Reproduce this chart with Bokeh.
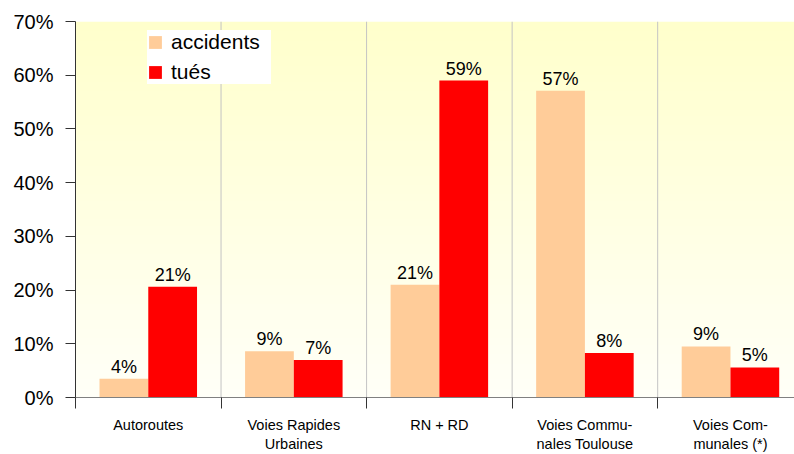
import numpy as np
from bokeh.plotting import figure
from bokeh.models import ColumnDataSource, Range1d, FixedTicker, LinearAxis, Legend, LegendItem
from bokeh.transform import dodge
from bokeh.core.properties import value
from bokeh.embed import file_html
from bokeh.resources import INLINE

# ---- data ----
categories = ["Autoroutes", "Voies Rapides Urbaines", "RN + RD",
              "Voies Communales Toulouse", "Voies Communales (*)"]
label_line1 = ["Autoroutes", "Voies Rapides", "RN + RD", "Voies Commu-", "Voies Com-"]
label_line2 = ["", "Urbaines", "", "nales Toulouse", "munales (*)"]
accidents = [3.5, 8.6, 21.0, 57.1, 9.5]
tues = [20.6, 7.0, 59.0, 8.3, 5.6]
accidents_labels = ["4%", "9%", "21%", "57%", "9%"]
tues_labels = ["21%", "7%", "59%", "8%", "5%"]
y_ticks = [0, 10, 20, 30, 40, 50, 60, 70]
series_names = ["accidents", "tués"]

FONT = "Liberation Sans"
ACC_COLOR = "#FFCC99"
TUES_COLOR = "#FF0000"

n = len(categories)
centers = [i + 0.5 for i in range(n)]
source = ColumnDataSource(dict(x=centers, acc=accidents, tues=tues,
                               acc_lbl=accidents_labels, tues_lbl=tues_labels))

p = figure(width=794, height=454, x_range=Range1d(0, 4.94), y_range=Range1d(0, 70),
           output_backend="svg", toolbar_location=None, x_axis_location=None,
           min_border_left=75, min_border_right=0, min_border_top=21, min_border_bottom=57)
p.outline_line_color = None
p.xgrid.visible = False
p.ygrid.visible = False
p.background_fill_color = "white"
p.border_fill_color = "white"

# gradient background (light yellow at top to near white at bottom)
rows = 120
img = np.empty((rows, 1), dtype=np.uint32)
view = img.view(dtype=np.uint8).reshape((rows, 1, 4))
t = np.linspace(0, 1, rows)
view[:, 0, 0] = 255
view[:, 0, 1] = 255
view[:, 0, 2] = (248 + (204 - 248) * t).astype(np.uint8)
view[:, 0, 3] = 255
p.image_rgba(image=[img], x=0, y=0, dw=n, dh=70)

# category separators
seps = list(range(1, n))
p.segment(x0=seps, y0=[0] * len(seps), x1=seps, y1=[70] * len(seps),
          line_color="#C4C4C4", line_width=1)

bw = 0.335
r_acc = p.vbar(x=dodge("x", -bw / 2, range=p.x_range), top="acc", width=bw, source=source,
               fill_color=ACC_COLOR, line_color=None)
r_tues = p.vbar(x=dodge("x", bw / 2, range=p.x_range), top="tues", width=bw, source=source,
                fill_color=TUES_COLOR, line_color=None)

for col, lbl, off in (("acc", "acc_lbl", -bw / 2), ("tues", "tues_lbl", bw / 2)):
    p.text(x=dodge("x", off, range=p.x_range), y=col, text=lbl, source=source,
           text_align="center", text_baseline="alphabetic", y_offset=-12,
           text_font=value(FONT), text_font_size="18px", text_color="black")

# y axis
ya = p.yaxis[0]
ya.ticker = FixedTicker(ticks=y_ticks, minor_ticks=[])
ya.major_label_overrides = {v: f"{v}%" for v in y_ticks}
ya.major_tick_in = 0
ya.major_tick_out = 10
ya.minor_tick_in = 0
ya.minor_tick_out = 0
ya.major_label_standoff = 12
ya.major_label_text_font = FONT
ya.major_label_text_font_size = "20px"
ya.major_label_text_color = "black"
ya.axis_line_color = "#333333"
ya.major_tick_line_color = "#333333"

# x axis: first label line + boundary ticks
xa1 = LinearAxis(ticker=FixedTicker(ticks=centers, minor_ticks=list(range(n + 1))))
xa1.major_label_overrides = {c: l for c, l in zip(centers, label_line1)}
xa1.major_tick_in = 0
xa1.major_tick_out = 0
xa1.minor_tick_in = 0
xa1.minor_tick_out = 11
xa1.minor_tick_line_color = "#333333"
xa1.axis_line_color = "#808080"
xa1.major_label_standoff = 8
xa1.major_label_text_font = FONT
xa1.major_label_text_font_size = "14.5px"
xa1.major_label_text_color = "black"
p.add_layout(xa1, "below")

# x axis: second label line
xa2 = LinearAxis(ticker=FixedTicker(ticks=centers, minor_ticks=[]))
xa2.major_label_overrides = {c: l for c, l in zip(centers, label_line2)}
xa2.axis_line_color = None
xa2.major_tick_line_color = None
xa2.minor_tick_line_color = None
xa2.major_tick_out = 0
xa2.major_label_standoff = 0
xa2.major_label_text_font = FONT
xa2.major_label_text_font_size = "14.5px"
xa2.major_label_text_color = "black"
p.add_layout(xa2, "below")

legend = Legend(items=[LegendItem(label=series_names[0], renderers=[r_acc]),
                       LegendItem(label=series_names[1], renderers=[r_tues])],
                location=(72, 313))
legend.border_line_color = None
legend.background_fill_color = "white"
legend.background_fill_alpha = 1.0
legend.padding = 11
legend.spacing = 6
legend.margin = 0
legend.glyph_width = 16
legend.glyph_height = 16
legend.label_height = 22
legend.label_width = 100
legend.label_standoff = 8
legend.label_text_font = FONT
legend.label_text_font_size = "21px"
legend.label_text_color = "black"
p.add_layout(legend, "center")

open("out.html", "w").write(file_html(p, INLINE))
